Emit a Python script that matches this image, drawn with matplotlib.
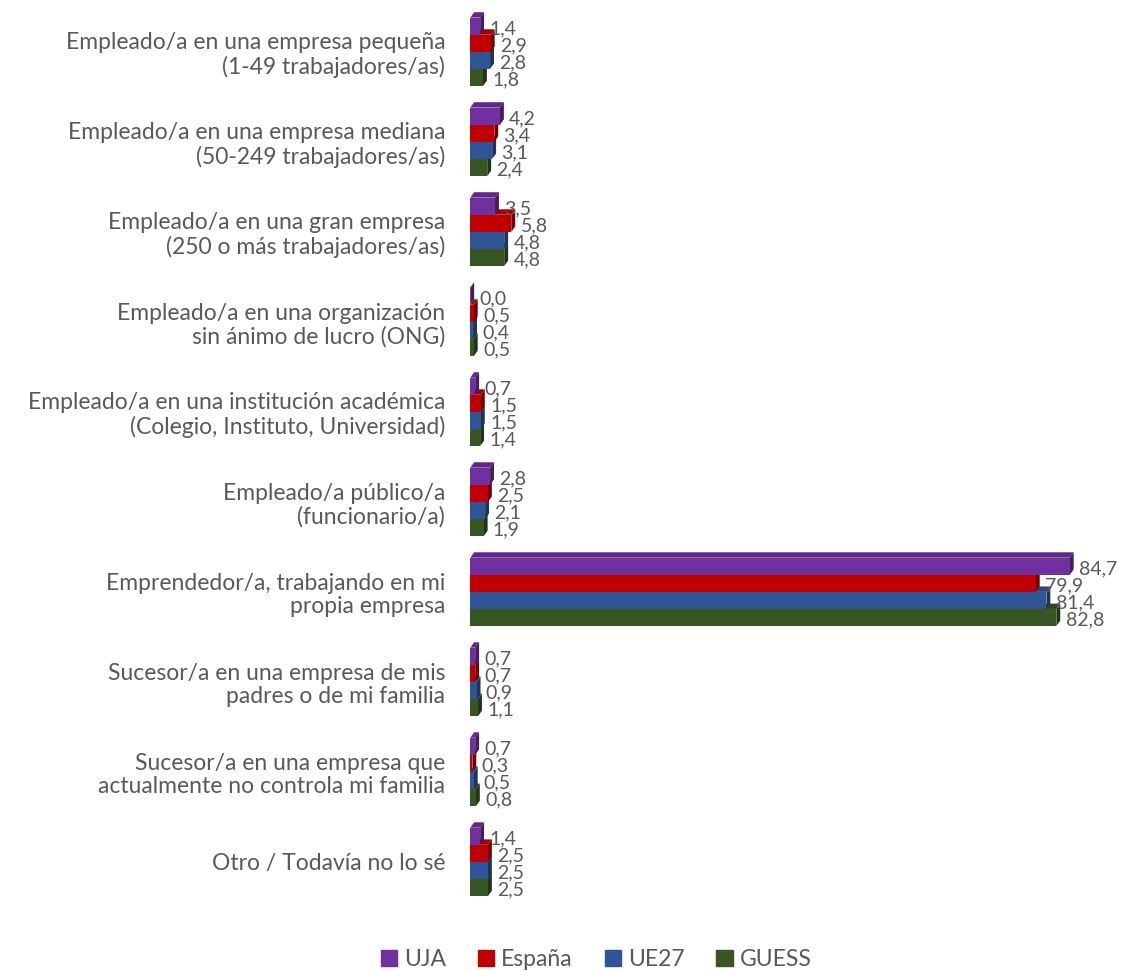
import matplotlib.pyplot as plt
import numpy as np
from matplotlib.patches import Polygon, Patch
from matplotlib.colors import to_rgb

plt.rcParams['font.family'] = ['Lato', 'DejaVu Sans']

categories = [
    "Empleado/a en una empresa pequeña\n(1-49 trabajadores/as)",
    "Empleado/a en una empresa mediana\n(50-249 trabajadores/as)",
    "Empleado/a en una gran empresa\n(250 o más trabajadores/as)",
    "Empleado/a en una organización\nsin ánimo de lucro (ONG)",
    "Empleado/a en una institución académica\n(Colegio, Instituto, Universidad)",
    "Empleado/a público/a\n(funcionario/a)",
    "Emprendedor/a, trabajando en mi\npropia empresa",
    "Sucesor/a en una empresa de mis\npadres o de mi familia",
    "Sucesor/a en una empresa que\nactualmente no controla mi familia",
    "Otro / Todavía no lo sé",
]
uja = [1.4, 4.2, 3.5, 0.0, 0.7, 2.8, 84.7, 0.7, 0.7, 1.4]
espana = [2.9, 3.4, 5.8, 0.5, 1.5, 2.5, 79.9, 0.7, 0.3, 2.5]
ue27 = [2.8, 3.1, 4.8, 0.4, 1.5, 2.1, 81.4, 0.9, 0.5, 2.5]
guess = [1.8, 2.4, 4.8, 0.5, 1.4, 1.9, 82.8, 1.1, 0.8, 2.5]
series = ["UJA", "España", "UE27", "GUESS"]
colors = ["#7030A0", "#C00000", "#2F5597", "#375623"]

fig = plt.figure(figsize=(11.25, 9.71), dpi=100)
ax = fig.add_axes([0.418, 0.066, 0.582, 0.927])

y = np.arange(len(categories))
h = 0.19
offsets = [-1.5 * h, -0.5 * h, 0.5 * h, 1.5 * h]
all_vals = [uja, espana, ue27, guess]
dx, dy = 0.55, 0.06
txt = "#595959"


def shade(c, f):
    r, g, b = to_rgb(c)
    return (r * f, g * f, b * f)


# draw bottom series first so upper bars cover the top faces below
for k in [3, 2, 1, 0]:
    vals = all_vals[k]
    col = colors[k]
    for i, v in enumerate(vals):
        yc = y[i] + offsets[k]
        y0, y1 = yc + h / 2, yc - h / 2  # bottom, top (inverted axis)
        top = Polygon([(0, y1), (v, y1), (v + dx, y1 - dy), (dx, y1 - dy)],
                      closed=True, fc=shade(col, 0.85), ec='none', zorder=2 + (3 - k))
        side = Polygon([(v, y1), (v + dx, y1 - dy), (v + dx, y0 - dy), (v, y0)],
                       closed=True, fc=shade(col, 0.6), ec='none', zorder=2 + (3 - k))
        ax.add_patch(top)
        ax.add_patch(side)
        ax.barh(yc, v, height=h, color=col, zorder=2 + (3 - k) + 0.1)
        lab = f"{v:.1f}".replace('.', ',')
        ax.text(v + 1.3, yc + 0.03, lab, ha='left', va='center',
                fontsize=14, color=txt, zorder=10)

ax.set_xlim(0, 92.5)
ax.set_ylim(len(categories) - 0.5, -0.5)
ax.set_yticks(y)
ax.set_yticklabels(categories, fontsize=16.5, color=txt, linespacing=1.15)
ax.tick_params(axis='y', length=0, pad=18)
ax.set_xticks([])
for s in ax.spines.values():
    s.set_visible(False)

handles = [Patch(color=c, label=s) for c, s in zip(colors, series)]
leg = fig.legend(handles=handles, loc='lower center', ncol=4, frameon=False,
                 bbox_to_anchor=(0.53, -0.02), fontsize=16.5, handlelength=0.7,
                 handleheight=0.7, handletextpad=0.3, columnspacing=1.4)
for t in leg.get_texts():
    t.set_color(txt)

fig.savefig("out.png", dpi=100)
